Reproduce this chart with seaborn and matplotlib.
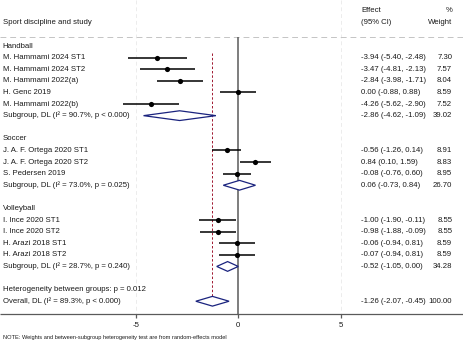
import numpy as np
import pandas as pd
import matplotlib
matplotlib.use("Agg")
import matplotlib.pyplot as plt
import seaborn as sns

# ---------------- data ----------------
groups = ["Handball", "Soccer", "Volleyball"]
studies = [
    ["M. Hammami 2024 ST1", "M. Hammami 2024 ST2", "M. Hammami 2022(a)", "H. Genc 2019", "M. Hammami 2022(b)"],
    ["J. A. F. Ortega 2020 ST1", "J. A. F. Ortega 2020 ST2", "S. Pedersen 2019"],
    ["I. Ince 2020 ST1", "I. Ince 2020 ST2", "H. Arazi 2018 ST1", "H. Arazi 2018 ST2"],
]
effects = [
    [-3.94, -3.47, -2.84, 0.00, -4.26],
    [-0.56, 0.84, -0.08],
    [-1.00, -0.98, -0.06, -0.07],
]
lowers = [
    [-5.40, -4.81, -3.98, -0.88, -5.62],
    [-1.26, 0.10, -0.76],
    [-1.90, -1.88, -0.94, -0.94],
]
uppers = [
    [-2.48, -2.13, -1.71, 0.88, -2.90],
    [0.14, 1.59, 0.60],
    [-0.11, -0.09, 0.81, 0.81],
]
weights = [
    [7.30, 7.57, 8.04, 8.59, 7.52],
    [8.91, 8.83, 8.95],
    [8.55, 8.55, 8.59, 8.59],
]
sub_effect = [-2.86, 0.06, -0.52]
sub_lower = [-4.62, -0.73, -1.05]
sub_upper = [-1.09, 0.84, 0.00]
sub_weight = [39.02, 26.70, 34.28]
sub_i2 = ["90.7%", "73.0%", "28.7%"]
sub_p = ["p < 0.000", "p = 0.025", "p = 0.240"]
between_p = "0.012"
overall_effect, overall_lower, overall_upper = -1.26, -2.07, -0.45
overall_i2, overall_p = "89.3%", "p < 0.000"
xticks = [-5, 0, 5]

# ---------------- layout ----------------
sns.set_style("white")
plt.rcParams["font.family"] = ["Liberation Sans", "DejaVu Sans"]
FS = 5.6
TXT = "#1a1a1a"
NAVY = "#1a237e"

fig = plt.figure(figsize=(4.63, 3.43), dpi=100)
ax = fig.add_axes([0, 0, 1, 1])

X_LABEL = -11.48
X_EFF = 5.98
X_W = 10.43

rows = []
sub_rows = []
group_rows = []
r = 0
for g in range(len(groups)):
    group_rows.append(r)
    r += 1
    for i in range(len(studies[g])):
        rows.append(dict(study=studies[g][i], est=effects[g][i], lo=lowers[g][i],
                         hi=uppers[g][i], w=weights[g][i], row=r))
        r += 1
    sub_rows.append(r)
    r += 2
het_row = r
overall_row = r + 1
axis_row = overall_row + 1.1
df = pd.DataFrame(rows)

# background guide lines
for xv in [-5, 5]:
    ax.vlines(xv, -3.97, axis_row, color="#ececec", lw=0.7, ls=(0, (4, 3)), zorder=0)
ax.hlines(-0.8, -11.62, 10.96, color="#c4c4c4", lw=0.7, ls=(0, (6, 4)), zorder=0)

# zero line and overall line
ax.vlines(0, -0.8, axis_row, color="#5a5a5a", lw=1.1, zorder=1)
ax.vlines(overall_effect, 0.6, overall_row + 0.4, color="#a01830", lw=0.7,
          ls=(0, (2.5, 2)), zorder=1)

# study CIs and points
ax.hlines(df["row"], df["lo"], df["hi"], color="black", lw=1.1, zorder=3)
sns.scatterplot(data=df, x="est", y="row", color="black", s=14, marker="o",
                edgecolor="black", linewidth=0, ax=ax, zorder=4, legend=False)
ax.set_xlim(-11.62, 10.96)
ax.set_ylim(25.6, -3.97)
ax.axis("off")

def diamond(lo, est, hi, y, h=0.42):
    ax.fill([lo, est, hi, est, lo], [y, y - h, y, y + h, y], facecolor="white",
            edgecolor=NAVY, lw=0.9, zorder=5)

for g in range(len(groups)):
    diamond(sub_lower[g], sub_effect[g], sub_upper[g], sub_rows[g])
diamond(overall_lower, overall_effect, overall_upper, overall_row)

# bottom axis
ax.hlines(axis_row, -11.62, 10.96, color="#5a5a5a", lw=0.9)
for t in xticks:
    ax.vlines(t, axis_row, axis_row + 0.35, color="#5a5a5a", lw=0.9)
    ax.text(t, axis_row + 0.95, f"{t}", ha="center", va="center", fontsize=FS, color=TXT)

# header
ax.text(X_LABEL, -2, "Sport discipline and study", ha="left", va="center", fontsize=FS, color=TXT)
ax.text(X_EFF, -3.05, "Effect", ha="left", va="center", fontsize=FS, color=TXT)
ax.text(X_EFF, -2, "(95% CI)", ha="left", va="center", fontsize=FS, color=TXT)
ax.text(X_W, -3.05, "%", ha="right", va="center", fontsize=FS, color=TXT)
ax.text(X_W, -2, "Weight", ha="right", va="center", fontsize=FS, color=TXT)

# labels
for g in range(len(groups)):
    ax.text(X_LABEL, group_rows[g], groups[g], ha="left", va="center", fontsize=FS, color=TXT)
    ax.text(X_LABEL, sub_rows[g], f"Subgroup, DL (I\u00b2 = {sub_i2[g]}, {sub_p[g]})",
            ha="left", va="center", fontsize=FS, color=TXT)
    ax.text(X_EFF, sub_rows[g], f"{sub_effect[g]:.2f} ({sub_lower[g]:.2f}, {sub_upper[g]:.2f})",
            ha="left", va="center", fontsize=FS, color=TXT)
    ax.text(X_W, sub_rows[g], f"{sub_weight[g]:.2f}", ha="right", va="center", fontsize=FS, color=TXT)

for _, rw in df.iterrows():
    ax.text(X_LABEL, rw["row"], rw["study"], ha="left", va="center", fontsize=FS, color=TXT)
    ax.text(X_EFF, rw["row"], f"{rw['est']:.2f} ({rw['lo']:.2f}, {rw['hi']:.2f})",
            ha="left", va="center", fontsize=FS, color=TXT)
    ax.text(X_W, rw["row"], f"{rw['w']:.2f}", ha="right", va="center", fontsize=FS, color=TXT)

ax.text(X_LABEL, het_row, f"Heterogeneity between groups: p = {between_p}", ha="left",
        va="center", fontsize=FS, color=TXT)
ax.text(X_LABEL, overall_row, f"Overall, DL (I\u00b2 = {overall_i2}, {overall_p})", ha="left",
        va="center", fontsize=FS, color=TXT)
ax.text(X_EFF, overall_row, f"{overall_effect:.2f} ({overall_lower:.2f}, {overall_upper:.2f})",
        ha="left", va="center", fontsize=FS, color=TXT)
ax.text(X_W, overall_row, "100.00", ha="right", va="center", fontsize=FS, color=TXT)

ax.text(X_LABEL, 25.1, "NOTE: Weights and between-subgroup heterogeneity test are from random-effects model",
        ha="left", va="center", fontsize=4.1, color=TXT)

fig.savefig("out.png", dpi=100)
